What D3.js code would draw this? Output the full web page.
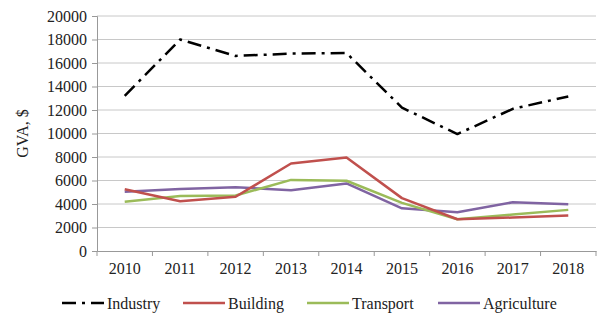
<!DOCTYPE html>
<html>
<head>
<meta charset="utf-8">
<script src="https://cdn.jsdelivr.net/npm/d3@7"></script>
<style>
  body { margin: 0; background: #fff; }
  svg, svg text { font-family: "Liberation Serif", "Times New Roman", serif !important; }
</style>
</head>
<body>
<div id="chart"></div>
<script>
const years = ["2010", "2011", "2012", "2013", "2014", "2015", "2016", "2017", "2018"];
const industry = [13200, 18000, 16600, 16800, 16850, 12200, 9950, 12100, 13150];
const building = [5250, 4230, 4620, 7450, 7950, 4500, 2700, 2850, 3030];
const transport = [4200, 4680, 4720, 6050, 5980, 4100, 2700, 3100, 3500];
const agriculture = [5050, 5280, 5420, 5180, 5750, 3630, 3300, 4150, 3980];
const yTicks = [0, 2000, 4000, 6000, 8000, 10000, 12000, 14000, 16000, 18000, 20000];

const series = [
  { name: "Industry", values: industry, color: "#000", dash: "14,6,3,6" },
  { name: "Building", values: building, color: "#c0504d", dash: null },
  { name: "Transport", values: transport, color: "#9bbb59", dash: null },
  { name: "Agriculture", values: agriculture, color: "#8064a2", dash: null }
];

const width = 613, height = 325;
const margin = { top: 16, right: 17, bottom: 74, left: 97 };
const fontSize = "16px";

const svg = d3.select("#chart").append("svg")
  .attr("width", width)
  .attr("height", height);

const x = d3.scaleBand()
  .domain(years)
  .range([margin.left, width - margin.right]);

const y = d3.scaleLinear()
  .domain([0, 20000])
  .range([height - margin.bottom, margin.top]);

// gridlines
svg.append("g")
  .selectAll("line")
  .data(yTicks.slice(1))
  .join("line")
    .attr("x1", margin.left)
    .attr("x2", width - margin.right)
    .attr("y1", d => y(d))
    .attr("y2", d => y(d))
    .attr("stroke", "#c8c8c8")
    .attr("stroke-width", 1);

// y axis
const yAxis = svg.append("g")
  .attr("transform", `translate(${margin.left},0)`)
  .call(d3.axisLeft(y).tickValues(yTicks).tickSize(5).tickPadding(5).tickFormat(d3.format("d")));
yAxis.select(".domain").attr("stroke", "#999");
yAxis.selectAll(".tick line").attr("stroke", "#999");
yAxis.selectAll("text").attr("font-size", fontSize).attr("fill", "#222");

// x axis
const xAxis = svg.append("g")
  .attr("transform", `translate(0,${y(0)})`)
  .call(d3.axisBottom(x).tickSize(0).tickPadding(12));
xAxis.select(".domain").attr("stroke", "#999");
xAxis.selectAll("text").attr("font-size", fontSize).attr("fill", "#222");
// category separators
svg.append("g")
  .selectAll("line")
  .data(years.concat(["end"]))
  .join("line")
    .attr("x1", (d, i) => i < years.length ? x(d) : x.range()[1])
    .attr("x2", (d, i) => i < years.length ? x(d) : x.range()[1])
    .attr("y1", y(0))
    .attr("y2", y(0) + 5)
    .attr("stroke", "#999");

svg.append("text")
  .attr("transform", `translate(28,${(margin.top + y(0)) / 2}) rotate(-90)`)
  .attr("text-anchor", "middle")
  .attr("font-size", fontSize)
  .attr("fill", "#222")
  .text("GVA, $");

const line = d3.line()
  .x((d, i) => x(years[i]) + x.bandwidth() / 2)
  .y(d => y(d));

svg.append("g")
  .selectAll("path")
  .data(series.slice().reverse())
  .join("path")
    .attr("d", d => line(d.values))
    .attr("fill", "none")
    .attr("stroke", d => d.color)
    .attr("stroke-width", 2.5)
    .attr("stroke-dasharray", d => d.dash)
    .attr("stroke-linejoin", "round");

// legend
const legendX = [62, 183, 307, 438];
const legend = svg.append("g")
  .selectAll("g")
  .data(series)
  .join("g")
    .attr("transform", (d, i) => `translate(${legendX[i]},303)`);
legend.append("line")
  .attr("x1", 0).attr("x2", 42)
  .attr("stroke", d => d.color)
  .attr("stroke-width", 2.5)
  .attr("stroke-dasharray", d => d.dash);
legend.append("text")
  .attr("x", 45)
  .attr("dy", "0.35em")
  .attr("font-size", fontSize)
  .attr("fill", "#222")
  .text(d => d.name);
</script>
</body>
</html>
